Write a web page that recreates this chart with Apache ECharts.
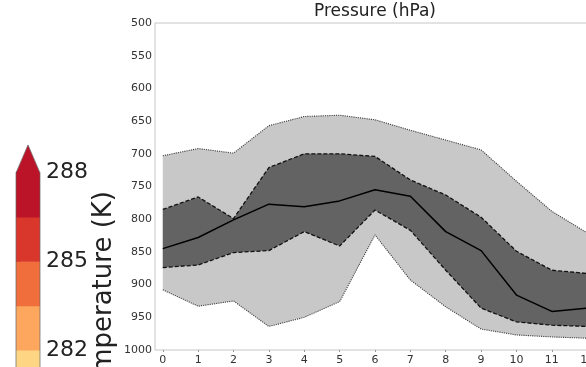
<!DOCTYPE html>
<html>
<head>
<meta charset="utf-8">
<script src="https://cdn.jsdelivr.net/npm/echarts@6/dist/echarts.min.js"></script>
<style>html,body{margin:0;padding:0;background:#fff}#c{width:586px;height:367px}</style>
</head>
<body>
<div id="c"></div>
<script>
// Forecast step (x axis)
const steps = [0, 1, 2, 3, 4, 5, 6, 7, 8, 9, 10, 11, 12];
// Pressure envelope (hPa)
const outerUpper = [703, 692, 699, 657, 643, 641, 648, 664, 679, 694, 742, 788, 821];
const innerUpper = [785, 766, 799, 721, 700, 700, 704, 740, 763, 797, 849, 878, 883];
const median     = [845, 828, 801, 777, 781, 772, 755, 765, 819, 848, 916, 941, 936];
const innerLower = [874, 870, 851, 848, 819, 841, 786, 817, 878, 936, 957, 962, 964];
const outerLower = [908, 933, 925, 964, 950, 926, 824, 893, 934, 968, 977, 980, 982];
// Colorbar (Temperature, K)
const cbBounds = [280.5, 282, 283.5, 285, 286.5, 288];
const cbColors = ['#fed683', '#fca75d', '#f06d3c', '#d9372b', '#bb1428'];
const cbArrowTip = 288.94;
const cbTicks = [282, 285, 288];

const FONT = 'DejaVu Sans';
const pairs = arr => steps.map((s, i) => [s, arr[i]]);

function bandRender(upper, lower, color) {
  return function (params, api) {
    const pts = [];
    for (let i = 0; i < steps.length; i++) pts.push(api.coord([steps[i], upper[i]]));
    for (let i = steps.length - 1; i >= 0; i--) pts.push(api.coord([steps[i], lower[i]]));
    return { type: 'polygon', shape: { points: pts }, style: { fill: color } };
  };
}

const lineSeries = (arr, type, color, width) => ({
  type: 'line', xAxisIndex: 0, yAxisIndex: 0, data: pairs(arr), symbol: 'none',
  silent: true, z: 5, animation: false,
  lineStyle: { type: type, color: color, width: width }
});

const cbSegments = cbColors.map((c, i) => [i]);

const option = {
  animation: false,
  title: {
    text: 'Pressure (hPa)', left: 375, top: 3, textAlign: 'center', padding: 0,
    textStyle: { fontFamily: FONT, fontSize: 17, fontWeight: 'normal', color: '#222' }
  },
  grid: [
    { left: 155, top: 23, width: 440, height: 327, show: true, borderColor: '#c6c6c6', borderWidth: 1, backgroundColor: 'rgba(0,0,0,0)', outerBoundsMode: 'none', containLabel: false },
    { left: 16, top: 172.7, width: 24, height: 221.6, outerBoundsMode: 'none', containLabel: false }
  ],
  xAxis: [
    {
      type: 'value', gridIndex: 0, min: -0.22, max: 12.22,
      axisLine: { show: false }, splitLine: { show: false },
      axisTick: { show: true, customValues: steps, length: 2, lineStyle: { color: '#999' } },
      axisLabel: { customValues: steps, margin: 5, fontFamily: FONT, fontSize: 11, color: '#333', formatter: v => String(v) }
    },
    { type: 'value', gridIndex: 1, min: 0, max: 1, show: false }
  ],
  yAxis: [
    {
      type: 'value', gridIndex: 0, inverse: true, min: 500, max: 1000, interval: 50,
      axisLine: { show: false }, splitLine: { show: false }, axisTick: { show: false },
      axisLabel: { margin: 3, fontFamily: FONT, fontSize: 11, color: '#333', formatter: v => String(v) }
    },
    {
      type: 'value', gridIndex: 1, position: 'right', min: 280.5, max: 288,
      axisLine: { show: false }, splitLine: { show: false },
      axisTick: { show: true, customValues: cbTicks, length: 4, lineStyle: { color: '#222' } },
      axisLabel: { customValues: cbTicks, margin: 6, fontFamily: FONT, fontSize: 22, color: '#222', showMaxLabel: true, showMinLabel: true, formatter: v => String(v) }
    }
  ],
  series: [
    { type: 'custom', xAxisIndex: 0, yAxisIndex: 0, data: [[0]], silent: true, z: 1, renderItem: bandRender(outerUpper, outerLower, '#c8c8c8') },
    { type: 'custom', xAxisIndex: 0, yAxisIndex: 0, data: [[0]], silent: true, z: 2, renderItem: bandRender(innerUpper, innerLower, '#636363') },
    lineSeries(outerUpper, 'dotted', '#3a3a3a', 1.1),
    lineSeries(outerLower, 'dotted', '#3a3a3a', 1.1),
    lineSeries(innerUpper, [4, 2], '#111', 1.3),
    lineSeries(innerLower, [4, 2], '#111', 1.3),
    lineSeries(median, 'solid', '#000', 1.5),
    {
      type: 'custom', xAxisIndex: 1, yAxisIndex: 1, data: cbSegments, silent: true, clip: false,
      renderItem: function (params, api) {
        const i = api.value(0);
        const p0 = api.coord([0, cbBounds[i + 1]]);
        const p1 = api.coord([1, cbBounds[i]]);
        return { type: 'rect', shape: { x: p0[0], y: p0[1], width: p1[0] - p0[0], height: p1[1] - p0[1] + 0.5 }, style: { fill: cbColors[i] } };
      }
    },
    {
      type: 'custom', xAxisIndex: 1, yAxisIndex: 1, data: [[0]], silent: true, clip: false,
      renderItem: function (params, api) {
        const top = cbBounds[cbBounds.length - 1];
        const a = api.coord([0, top]), b = api.coord([1, top]), t = api.coord([0.5, cbArrowTip]);
        const bl = api.coord([0, cbBounds[0]]), br = api.coord([1, cbBounds[0]]);
        return {
          type: 'group', children: [
            { type: 'polygon', shape: { points: [[a[0], a[1] + 0.5], t, [b[0], b[1] + 0.5]] }, style: { fill: cbColors[cbColors.length - 1] } },
            { type: 'polyline', shape: { points: [bl, a, t, b, br] }, style: { stroke: '#666', lineWidth: 0.7, fill: null } }
          ]
        };
      }
    }
  ],
  graphic: [
    {
      type: 'text', x: 104, y: 191, rotation: Math.PI / 2,
      style: { text: 'Temperature (K)', fontFamily: FONT, fontSize: 26, fill: '#222', align: 'right', verticalAlign: 'middle' }
    }
  ]
};

const chart = echarts.init(document.getElementById('c'), null, { renderer: 'canvas' });
chart.setOption(option);
</script>
</body>
</html>
